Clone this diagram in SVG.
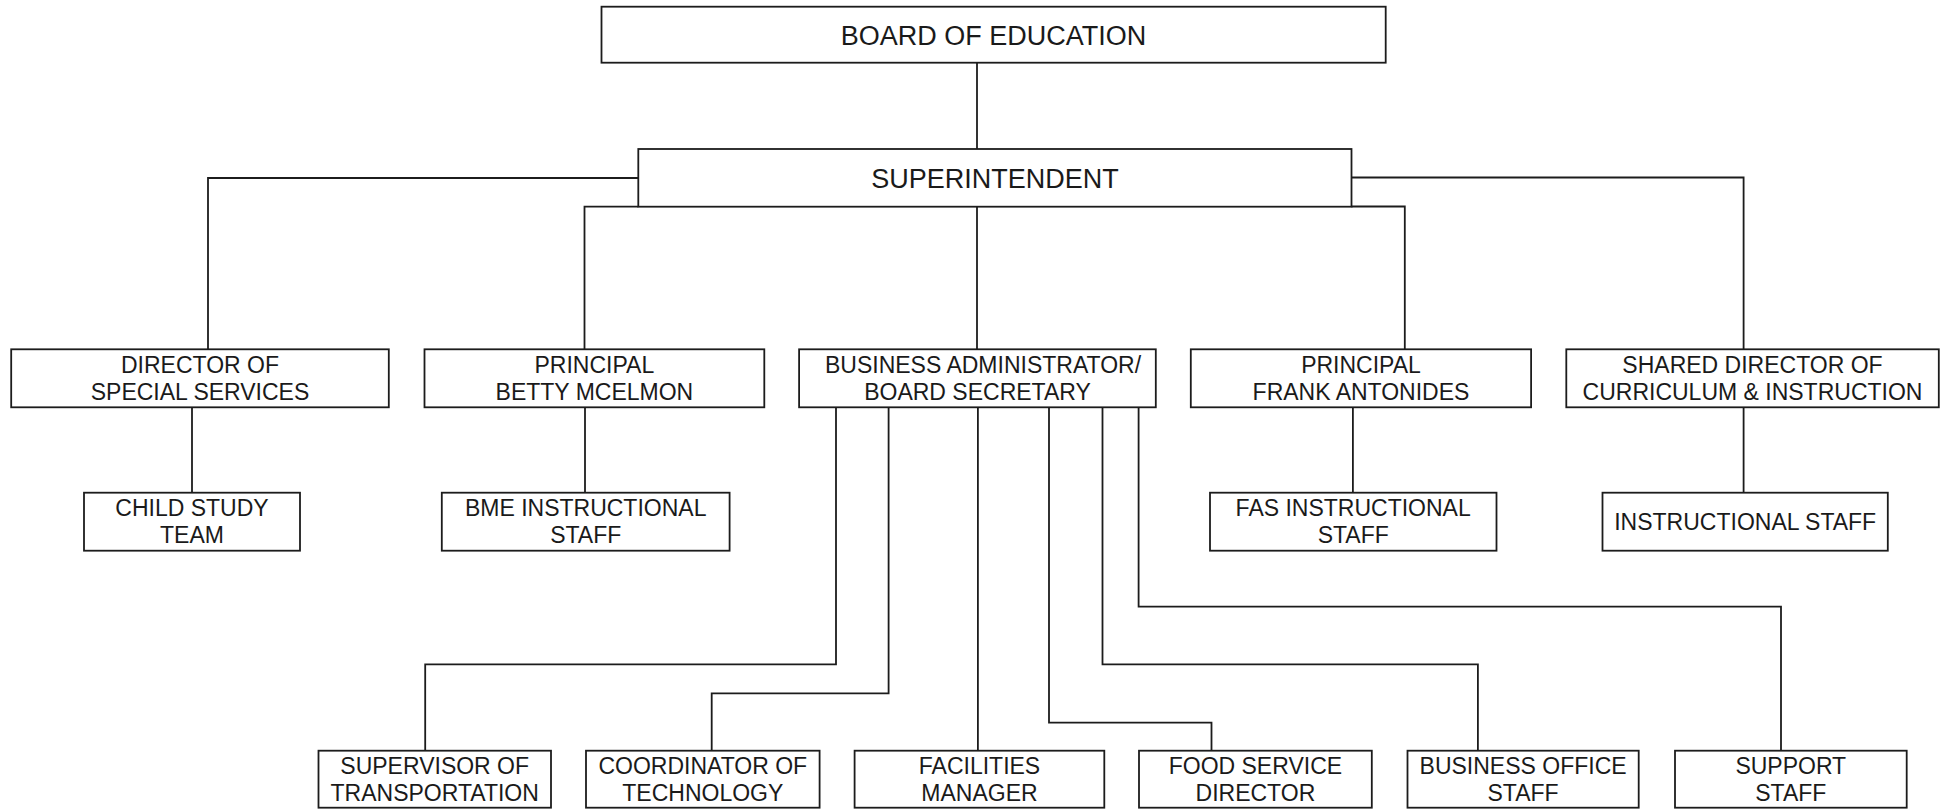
<svg xmlns="http://www.w3.org/2000/svg" width="1949" height="809" viewBox="0 0 1949 809">
<style>
.box{fill:#fff;stroke:#1c1c1c;stroke-width:1.8}
.ln{fill:none;stroke:#1c1c1c;stroke-width:1.8}
text{font-family:"Liberation Sans",Arial,sans-serif;fill:#1a1a1a;text-anchor:middle}
.big{font-size:27px}
.t{font-size:23px}
</style>
<rect width="1949" height="809" fill="#fff"/>
<g id="connectors">
<path class="ln" d="M977 62.7V149"/>
<path class="ln" d="M638.3 178H208V349.3"/>
<path class="ln" d="M638.3 206.7H584.5V349.3"/>
<path class="ln" d="M1351.5 177.5H1743.6V349.3"/>
<path class="ln" d="M1351.5 206.5H1404.8V349.3"/>
<path class="ln" d="M977 206.7V349.3"/>
<path class="ln" d="M192 407.3V492.7"/>
<path class="ln" d="M585 407.3V492.7"/>
<path class="ln" d="M1352.9 407.3V492.7"/>
<path class="ln" d="M1743.6 407.3V492.7"/>
<path class="ln" d="M836 407.3V664.3H425.2V750.7"/>
<path class="ln" d="M888.6 407.3V693.3H711.7V750.7"/>
<path class="ln" d="M977.9 407.3V750.7"/>
<path class="ln" d="M1049 407.3V722.7H1211.5V750.7"/>
<path class="ln" d="M1102.5 407.3V664.3H1477.9V750.7"/>
<path class="ln" d="M1138.6 407.3V606.7H1781V750.7"/>
</g>
<g id="board">
<rect class="box" x="601.5" y="6.7" width="784.2" height="56"/>
<text class="big" x="993.6" y="44.5">BOARD OF EDUCATION</text>
</g>
<g id="superintendent">
<rect class="box" x="638.3" y="149" width="713.2" height="57.7"/>
<text class="big" x="994.9" y="188">SUPERINTENDENT</text>
</g>
<g id="director-special">
<rect class="box" x="11.2" y="349.3" width="377.6" height="58"/>
<text class="t" x="200" y="372.5">DIRECTOR OF</text>
<text class="t" x="200" y="400">SPECIAL SERVICES</text>
</g>
<g id="principal-betty">
<rect class="box" x="424.5" y="349.3" width="339.8" height="58"/>
<text class="t" x="594.4" y="372.5">PRINCIPAL</text>
<text class="t" x="594.4" y="400">BETTY MCELMON</text>
</g>
<g id="business-admin">
<rect class="box" x="799.1" y="349.3" width="356.7" height="58"/>
<text class="t" x="983" y="372.5">BUSINESS ADMINISTRATOR/</text>
<text class="t" x="977.5" y="400">BOARD SECRETARY</text>
</g>
<g id="principal-frank">
<rect class="box" x="1190.8" y="349.3" width="340.3" height="58"/>
<text class="t" x="1361" y="372.5">PRINCIPAL</text>
<text class="t" x="1361" y="400">FRANK ANTONIDES</text>
</g>
<g id="shared-director">
<rect class="box" x="1566.3" y="349.3" width="372.5" height="58"/>
<text class="t" x="1752.5" y="372.5">SHARED DIRECTOR OF</text>
<text class="t" x="1752.5" y="400">CURRICULUM &amp; INSTRUCTION</text>
</g>
<g id="child-study">
<rect class="box" x="84" y="492.7" width="216" height="58"/>
<text class="t" x="192" y="515.8">CHILD STUDY</text>
<text class="t" x="192" y="543.3">TEAM</text>
</g>
<g id="bme-staff">
<rect class="box" x="441.8" y="492.7" width="287.8" height="58"/>
<text class="t" x="585.7" y="515.8">BME INSTRUCTIONAL</text>
<text class="t" x="585.7" y="543.3">STAFF</text>
</g>
<g id="fas-staff">
<rect class="box" x="1210" y="492.7" width="286.5" height="58"/>
<text class="t" x="1353.2" y="515.8">FAS INSTRUCTIONAL</text>
<text class="t" x="1353.2" y="543.3">STAFF</text>
</g>
<g id="instructional-staff">
<rect class="box" x="1602.5" y="492.7" width="285.3" height="58"/>
<text class="t" x="1745.2" y="529.7">INSTRUCTIONAL STAFF</text>
</g>
<g id="supervisor-transportation">
<rect class="box" x="318.5" y="750.7" width="232.5" height="57"/>
<text class="t" x="434.7" y="773.8">SUPERVISOR OF</text>
<text class="t" x="434.7" y="801.3">TRANSPORTATION</text>
</g>
<g id="coordinator-technology">
<rect class="box" x="586" y="750.7" width="233.6" height="57"/>
<text class="t" x="702.8" y="773.8">COORDINATOR OF</text>
<text class="t" x="702.8" y="801.3">TECHNOLOGY</text>
</g>
<g id="facilities-manager">
<rect class="box" x="854.6" y="750.7" width="249.7" height="57"/>
<text class="t" x="979.5" y="773.8">FACILITIES</text>
<text class="t" x="979.5" y="801.3">MANAGER</text>
</g>
<g id="food-service">
<rect class="box" x="1139" y="750.7" width="232.8" height="57"/>
<text class="t" x="1255.4" y="773.8">FOOD SERVICE</text>
<text class="t" x="1255.4" y="801.3">DIRECTOR</text>
</g>
<g id="business-office">
<rect class="box" x="1407.5" y="750.7" width="231.2" height="57"/>
<text class="t" x="1523.1" y="773.8">BUSINESS OFFICE</text>
<text class="t" x="1523.1" y="801.3">STAFF</text>
</g>
<g id="support-staff">
<rect class="box" x="1675" y="750.7" width="231.7" height="57"/>
<text class="t" x="1790.8" y="773.8">SUPPORT</text>
<text class="t" x="1790.8" y="801.3">STAFF</text>
</g>
</svg>
